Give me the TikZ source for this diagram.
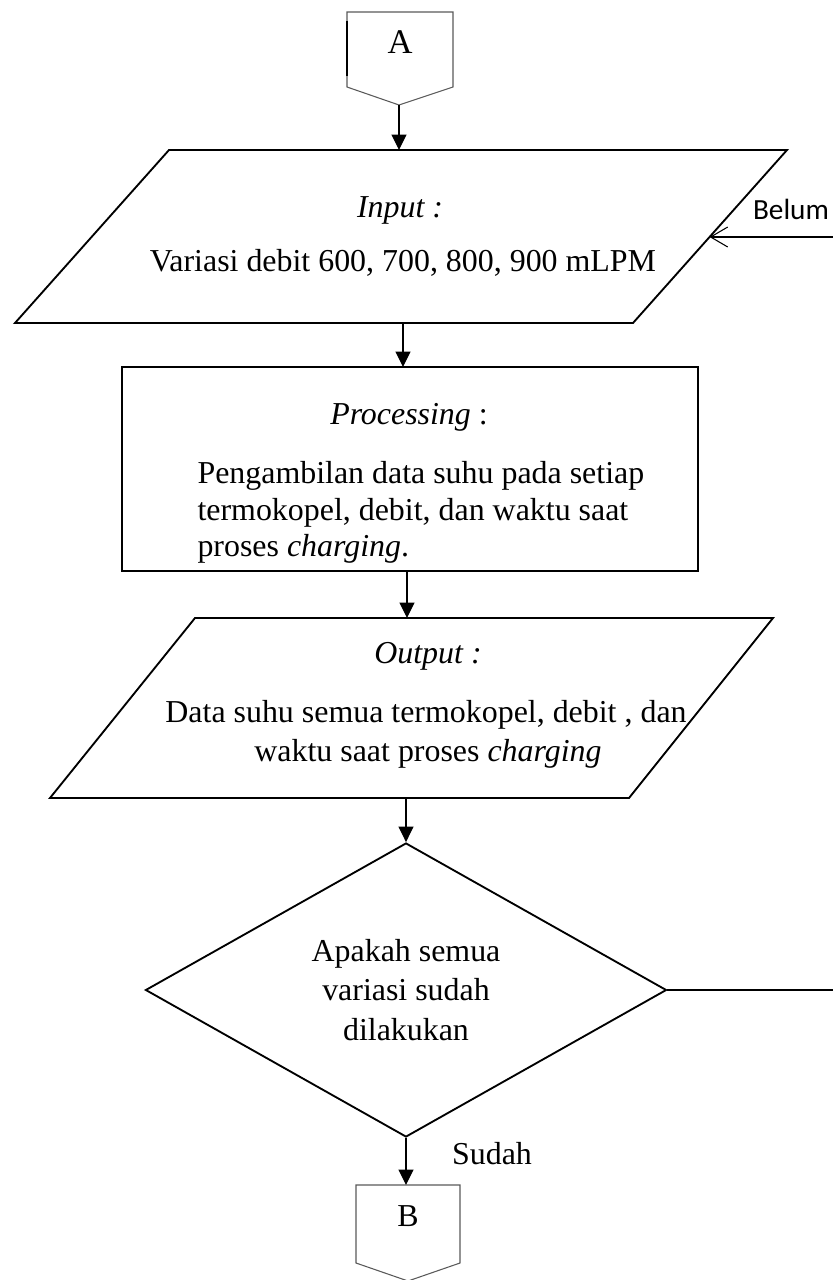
\documentclass[tikz,border=0pt]{standalone}
\usepackage{fontspec}
\setmainfont{Liberation Serif}
\newfontfamily\calibrifont{Carlito}
\usetikzlibrary{shapes.geometric,arrows.meta}
\def\pxu{0.376pt}
\tikzset{
  shapeline/.style={line width=0.7pt},
  conn/.style={line width=0.45pt,-{Triangle[length=5.8pt,width=5.6pt]}},
  backconn/.style={line width=0.4pt,-{Straight Barb[length=6.4pt,width=7.5pt]}},
  txt/.style={font=\fontsize{12}{14.7}\selectfont, inner sep=0pt, anchor=mid},
  offpage/.style={draw=black!65,line width=0.4pt},
}
\begin{document}
\begin{tikzpicture}[x=0.376pt,y=-0.376pt]
\useasboundingbox (0,0) rectangle (833,1280);

% off-page connector A
\draw[offpage] (347,12) -- (453,12) -- (453,87) -- (399,105) -- (347,87) -- cycle;
\draw[line width=0.6pt] (347,21) -- (347,76);
\node[txt, font=\fontsize{13}{15}\selectfont] (A) at (400,47) {A};
\coordinate (Abot) at (399,105);

% input parallelogram
\draw[shapeline] (169,150) -- (787,150) -- (633,323) -- (15,323) -- cycle;
\coordinate (inTop) at (399,150);
\coordinate (inBot) at (403,323);
\coordinate (inRight) at (709.6,237);
\node[txt] (inTitle) at (400,211) {\textit{Input :}};
\node[txt] (inBody) at (403,265) {Variasi debit 600, 700, 800, 900 mLPM};

% processing rectangle
\node[draw, shapeline, minimum width=576*\pxu, minimum height=204*\pxu, inner sep=0pt] (proc) at (410,469) {};
\coordinate (procTop) at (403,367);
\coordinate (procBot) at (407,571);
\node[txt] (procTitle) at (409,418) {\textit{Processing} :};
\node[txt, anchor=mid west] (procL1) at (197,477) {Pengambilan data suhu pada setiap};
\node[txt, anchor=mid west] (procL2) at (197,514) {termokopel, debit, dan waktu saat};
\node[txt, anchor=mid west] (procL3) at (197,550) {proses \textit{charging}.};

% output parallelogram
\draw[shapeline] (195,618) -- (773,618) -- (629,798) -- (50,798) -- cycle;
\coordinate (outTop) at (407,618);
\coordinate (outBot) at (406,798);
\node[txt] (outTitle) at (428,657) {\textit{Output :}};
\node[txt] (outL1) at (426,716) {Data suhu semua termokopel, debit , dan};
\node[txt] (outL2) at (428,755) {waktu saat proses \textit{charging}};

% decision
\node[diamond, draw, shapeline, aspect=1.8, minimum width=521*\pxu, minimum height=294*\pxu,
      inner sep=0pt, align=center, font=\fontsize{12}{14.7}\selectfont] (dec) at (406,990)
      {Apakah semua\\variasi sudah\\dilakukan};
\coordinate (loopEnd) at (833,990);
\coordinate (loopStart) at (833,237);
\node[txt] (sudah) at (492,1158) {Sudah};
\node[inner sep=0pt, anchor=mid, font=\calibrifont\fontsize{11}{13}\selectfont] (belum) at (791,213) {Belum};

% off-page connector B
\draw[offpage] (356,1185) -- (460,1185) -- (460,1263) -- (408,1281) -- (356,1263) -- cycle;
\node[txt] (B) at (408,1220) {B};
\coordinate (Btop) at (406,1185);

% connectors
\draw[conn] (Abot) -- (inTop);
\draw[conn] (inBot) -- (procTop);
\draw[conn] (procBot) -- (outTop);
\draw[conn] (outBot) -- (dec.north);
\draw[conn] (dec.south) -- (Btop);
\draw[line width=0.45pt] (dec.east) -- (loopEnd);
\draw[backconn] (loopStart) -- (inRight);
\end{tikzpicture}
\end{document}
